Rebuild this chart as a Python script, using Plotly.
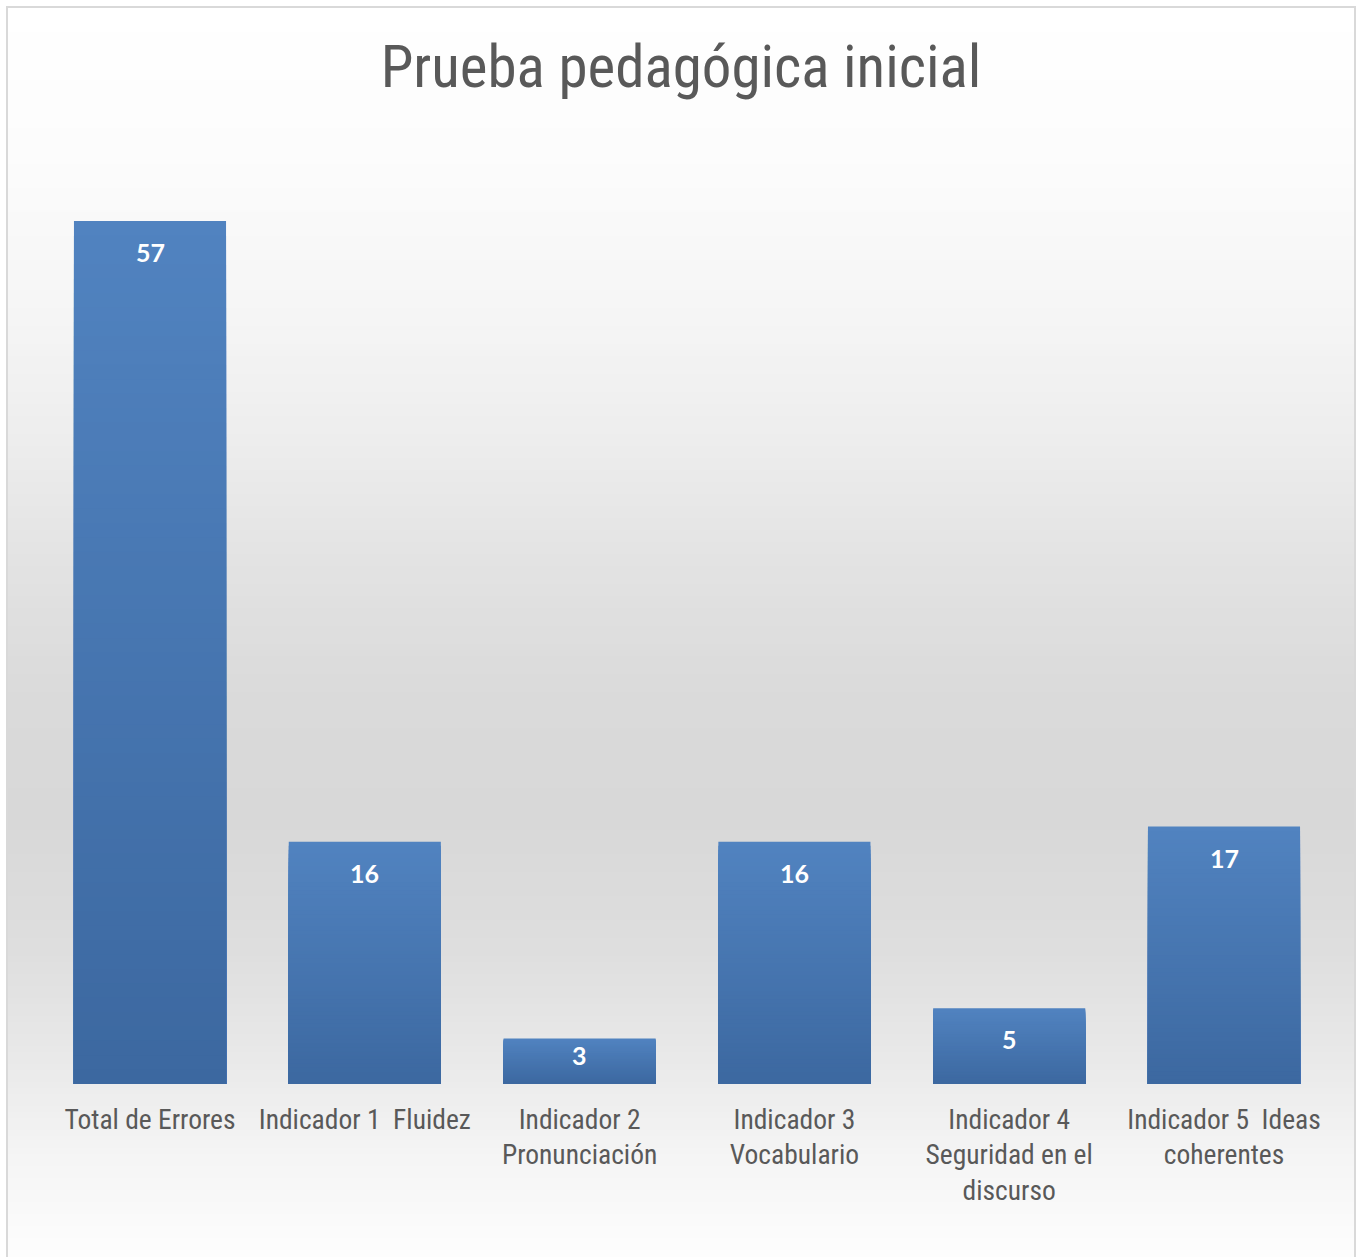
import plotly.graph_objects as go

# ---------------- data ----------------
categories = [
    "Total de Errores",
    "Indicador 1  Fluidez",
    "Indicador 2 Pronunciación",
    "Indicador 3 Vocabulario",
    "Indicador 4 Seguridad en el discurso",
    "Indicador 5  Ideas coherentes",
]
tick_labels = [
    "Total de Errores",
    "Indicador 1\u00a0\u00a0Fluidez",
    "Indicador 2<br>Pronunciación",
    "Indicador 3<br>Vocabulario",
    "Indicador 4<br>Seguridad en el<br>discurso",
    "Indicador 5\u00a0\u00a0Ideas<br>coherentes",
]
values = [57, 16, 3, 16, 5, 17]
title_text = "Prueba pedagógica inicial"

# ---------------- geometry / style ----------------
W, H = 1362, 1257
NARROW = "Liberation Sans Narrow, Arial Narrow, Roboto Condensed, sans-serif"
TEXT_GRAY = "#595959"
Y_RANGE = [0, 60]
X_DOMAIN = [42.6 / W, 1331.4 / W]
Y_DOMAIN = [(H - 1084) / H, (H - 175.6) / H]


def lerp(c1, c2, t):
    return "rgb({},{},{})".format(*[round(a + (b - a) * t) for a, b in zip(c1, c2)])


BAR_BOTTOM = (60, 104, 160)
BAR_TOP = (81, 131, 192)

fig = go.Figure()

# bars with a vertical gradient: stacked overlays, each shorter one drawn on top
N = 60
for k in range(N):
    frac = 1 - k / N
    t = frac - 0.5 / N
    fig.add_trace(go.Bar(
        x=categories,
        y=[v * frac for v in values],
        marker=dict(color=lerp(BAR_BOTTOM, BAR_TOP, t), line=dict(width=0)),
        hoverinfo="skip",
        showlegend=False,
    ))

# data labels, inside end of each bar
px_per_unit = (Y_DOMAIN[1] - Y_DOMAIN[0]) * H / (Y_RANGE[1] - Y_RANGE[0])
for c, v in zip(categories, values):
    hpx = v * px_per_unit
    off = min(31, hpx / 2 - 6)
    fig.add_annotation(
        x=c, y=v, xref="x", yref="y", text=str(v), showarrow=False,
        yanchor="middle", yshift=-off,
        font=dict(family="Lato, Open Sans, sans-serif", size=25, color="white", weight="bold"),
    )

# background gradient (chart area) drawn as thin bands
stops = [(8, 255), (150, 252), (300, 246), (400, 240), (500, 232), (600, 224),
         (700, 218), (820, 216), (950, 222), (1050, 232), (1150, 244), (1257, 253)]


def gray_at(py):
    for (y0, g0), (y1, g1) in zip(stops[:-1], stops[1:]):
        if y0 <= py <= y1:
            return g0 + (g1 - g0) * (py - y0) / (y1 - y0)
    return stops[-1][1]


shapes = []
step = 6
py = 8
while py < H:
    g = round(gray_at(py + step / 2))
    shapes.append(dict(
        type="rect", xref="paper", yref="paper", layer="below",
        x0=8 / W, x1=1355 / W,
        y0=1 - (py + step + 1) / H, y1=1 - py / H,
        fillcolor=f"rgb({g},{g},{g})", line=dict(width=0),
    ))
    py += step

# outer border
shapes.append(dict(
    type="rect", xref="paper", yref="paper", layer="above",
    x0=7 / W, x1=1355 / W, y0=1 - 1275 / H, y1=1 - 7 / H,
    line=dict(color="#d9d9d9", width=2), fillcolor="rgba(0,0,0,0)",
))

fig.update_layout(
    width=W, height=H,
    margin=dict(l=0, r=0, t=0, b=0),
    paper_bgcolor="white",
    plot_bgcolor="rgba(0,0,0,0)",
    barmode="overlay",
    bargap=0.292,
    shapes=shapes,
    title=dict(
        text=title_text, x=0.5, xanchor="center",
        y=1 - 66 / H, yref="container", yanchor="middle",
        font=dict(family=NARROW, size=59, color=TEXT_GRAY),
    ),
    xaxis=dict(
        domain=X_DOMAIN, tickmode="array", tickvals=categories, ticktext=tick_labels,
        tickfont=dict(family=NARROW, size=27.5, color=TEXT_GRAY),
        showline=False, showgrid=False, zeroline=False, ticks="",
        ticklabelstandoff=16, automargin=False,
    ),
    yaxis=dict(
        domain=Y_DOMAIN, range=Y_RANGE, visible=False,
        showgrid=False, zeroline=False,
    ),
)

fig.write_html(
    "out.html",
    config={"displayModeBar": False},
    post_script="document.body.style.margin='0px';document.body.style.overflow='hidden';",
)
